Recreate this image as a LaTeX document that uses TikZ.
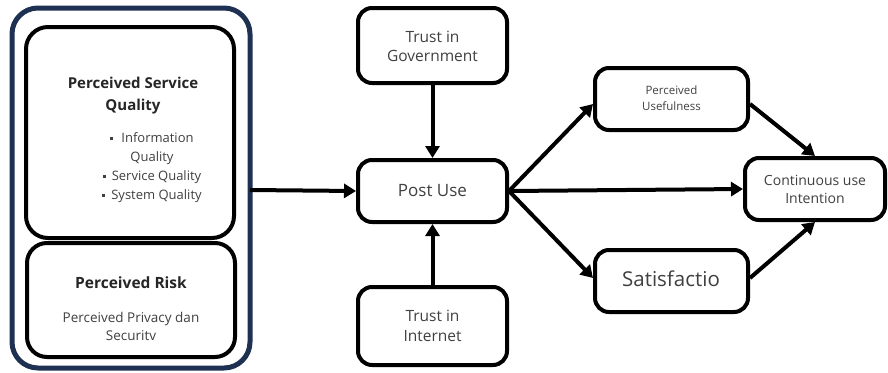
\documentclass[tikz,border=0pt]{standalone}
\usepackage{fontspec}
\setmainfont{Open Sans}
\usetikzlibrary{arrows.meta}
\definecolor{navy}{HTML}{1F3152}
\definecolor{txt}{HTML}{404040}
\newcommand{\sqb}{\raisebox{3pt}{\rule{3pt}{3pt}}}
\begin{document}
\begin{tikzpicture}[x=1pt,y=-1pt,
  box/.style={draw=black,line width=4pt,rounded corners=14pt,fill=white},
  lbl/.style={text=txt,align=center,inner sep=0pt},
  arr/.style={line width=4pt,-{Triangle[length=12pt,width=14pt]}}]
\useasboundingbox (0,0) rectangle (888,372);
% left group
\draw[navy,line width=5pt,rounded corners=26pt] (12,8) rectangle (250,368);
\node[box,minimum width=208pt,minimum height=211pt,rounded corners=22pt] (psq) at (130,132.5) {};
\node[box,minimum width=208pt,minimum height=114pt,rounded corners=20pt] (pr) at (131,300) {};
\coordinate (outR) at (250,190);
\node[lbl,font=\bfseries\fontsize{15}{22}\selectfont,text=black!85] (psqt) at (133,96) {Perceived Service\\Quality};
\node[lbl,font=\fontsize{13}{19}\selectfont] (bul) at (152,168) {\sqb\hspace{8pt}Information\\Quality\\\sqb\hspace{6pt}Service Quality\\\sqb\hspace{6pt}System Quality};
\node[lbl,font=\bfseries\fontsize{15.5}{18}\selectfont,text=black!85] (prt) at (131,283) {Perceived Risk};
\node[lbl,font=\fontsize{13.5}{18}\selectfont] (prs) at (131,326.5) {Perceived Privacy dan\\Securitv};
% middle
\node[box,minimum width=149pt,minimum height=75pt] (gov) at (432.5,45.5) {};
\node[lbl,font=\fontsize{15.5}{19}\selectfont] at (432.5,46) {Trust in\\Government};
\node[box,minimum width=149pt,minimum height=62pt] (pu) at (432.5,191) {};
\node[lbl,font=\fontsize{17}{20}\selectfont] at (pu) {Post Use};
\node[box,minimum width=149pt,minimum height=78pt] (inet) at (432.5,326) {};
\node[lbl,font=\fontsize{15.5}{20}\selectfont] at (inet) {Trust in\\Internet};
% right
\node[box,minimum width=153pt,minimum height=62pt] (use) at (671.5,99) {};
\node[lbl,font=\fontsize{11.5}{16}\selectfont] at (671.5,98) {Perceived\\Usefulness};
\node[box,minimum width=153pt,minimum height=62pt] (sat) at (671.5,281) {};
\node[lbl,font=\fontsize{20.5}{24}\selectfont] at (671,279) {Satisfactio};
\node[box,minimum width=140pt,minimum height=62pt] (ci) at (815,189) {};
\node[lbl,font=\fontsize{14}{18}\selectfont] at (ci) {Continuous use\\Intention};
% arrows
\draw[arr] (outR) -- (pu.west);
\draw[arr] (gov.south) -- (pu.north);
\draw[arr] (inet.north) -- (pu.south);
\draw[arr] (pu.east) -- (use.west |- 0,104);
\draw[arr] (pu.east) -- (ci.west);
\draw[arr] (pu.east) -- (sat.west |- 0,278);
\draw[arr] (use.east |- 0,104) -- (ci.north);
\draw[arr] (sat.east |- 0,278) -- (ci.south);
\end{tikzpicture}
\end{document}
